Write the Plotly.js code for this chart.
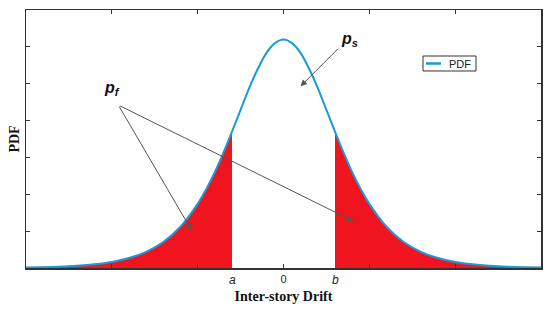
<!DOCTYPE html>
<html>
<head>
<meta charset="utf-8">
<script src="https://cdn.plot.ly/plotly-3.0.1.min.js"></script>
<style>html,body{margin:0;padding:0;background:#fff;}#chart{width:550px;height:311px;}</style>
</head>
<body>
<div id="chart"></div>
<script>
// Inter-story drift (x) and PDF values
const drift = [-3,-2.8,-2.6,-2.4,-2.2,-2,-1.8,-1.6,-1.4,-1.2,-1,-0.9,-0.8,-0.7,-0.6,-0.5,-0.4,-0.3,-0.2,-0.1,0,0.1,0.2,0.3,0.4,0.5,0.6,0.7,0.8,0.9,1,1.2,1.4,1.6,1.8,2,2.2,2.4,2.6,2.8,3];
const pdf = [0.0014,0.0023,0.0037,0.0061,0.0101,0.0165,0.027,0.0438,0.0706,0.112,0.174,0.214,0.26,0.313,0.37,0.429,0.488,0.54,0.583,0.61,0.62,0.61,0.583,0.54,0.488,0.429,0.37,0.313,0.26,0.214,0.174,0.112,0.0706,0.0438,0.027,0.0165,0.0101,0.0061,0.0037,0.0023,0.0014];
const limitA = -0.6;   // "a"
const limitB = 0.6;    // "b"
const xTicks = [-2,-1,0,1,2];
const xTickText = ['','','0','',''];
const yTicks = [0.1,0.2,0.3,0.4,0.5,0.6];
const legendLabel = 'PDF';

const leftX = [], leftY = [], rightX = [], rightY = [];
drift.forEach((x,i)=>{
  if (x <= limitA) { leftX.push(x); leftY.push(pdf[i]); }
  if (x >= limitB) { rightX.push(x); rightY.push(pdf[i]); }
});

const red = '#f0141e';
const blue = '#1b9ad8';
const traces = [
  {x:leftX, y:leftY, type:'scatter', mode:'lines', fill:'tozeroy', fillcolor:red,
   line:{color:red, width:0.5, shape:'spline'}, showlegend:false, hoverinfo:'skip'},
  {x:rightX, y:rightY, type:'scatter', mode:'lines', fill:'tozeroy', fillcolor:red,
   line:{color:red, width:0.5, shape:'spline'}, showlegend:false, hoverinfo:'skip'},
  {x:drift, y:pdf, type:'scatter', mode:'lines', name:legendLabel, showlegend:false,
   line:{color:blue, width:2, shape:'spline'}}
];

const arrowColor = '#555';
const layout = {
  width:550, height:311,
  margin:{l:26, r:9, t:10, b:43},
  paper_bgcolor:'#fff', plot_bgcolor:'#fff',
  showlegend:false,
  xaxis:{range:[-3,3], tickvals:xTicks, ticktext:xTickText, ticks:'inside', ticklen:4,
         tickcolor:'#333', showline:true, linecolor:'#333', linewidth:1.5, mirror:'ticks',
         showgrid:false, zeroline:false,
         tickfont:{family:'Liberation Sans, Arial', size:11, color:'#222'},
         title:{text:'<b>Inter-story Drift</b>', standoff:7,
                font:{family:'Liberation Serif, Times New Roman', size:14, color:'#111'}}},
  yaxis:{range:[0,0.7], tickvals:yTicks, showticklabels:false, ticks:'inside', ticklen:4,
         tickcolor:'#333', showline:true, linecolor:'#333', linewidth:1.5, mirror:'ticks',
         showgrid:false, zeroline:false,
         title:{text:'<b>PDF</b>', standoff:1,
                font:{family:'Liberation Serif, Times New Roman', size:14, color:'#111'}}},
  shapes:[
    {type:'rect', xref:'paper', yref:'paper', x0:0.7709, x1:0.8738, y0:0.7636, y1:0.8217,
     line:{color:'#333', width:1}, fillcolor:'#fff'},
    {type:'line', xref:'paper', yref:'paper', x0:0.7767, x1:0.8058, y0:0.7926, y1:0.7926,
     line:{color:blue, width:2.5}}
  ],
  annotations:[
    {x:0.8175, y:0.7926, xref:'paper', yref:'paper', text:legendLabel, showarrow:false,
     xanchor:'left', yanchor:'middle',
     font:{family:'Liberation Sans, Arial', size:11, color:'#222'}},
    {x:limitA, y:0, xref:'x', yref:'y', text:'<i>a</i>', showarrow:false, yanchor:'top', yshift:-3,
     font:{family:'Liberation Sans, Arial', size:12, color:'#222'}},
    {x:limitB, y:0, xref:'x', yref:'y', text:'<i>b</i>', showarrow:false, yanchor:'top', yshift:-3,
     font:{family:'Liberation Sans, Arial', size:12, color:'#222'}},
    {x:-2.0, y:0.488, xref:'x', yref:'y', text:'<b><i>p<sub>f</sub></i></b>', showarrow:false,
     font:{family:'Liberation Sans, Arial', size:16, color:'#111'}},
    {x:0.77, y:0.62, xref:'x', yref:'y', text:'<b><i>p<sub>s</sub></i></b>', showarrow:false,
     font:{family:'Liberation Sans, Arial', size:16, color:'#111'}},
    {x:-1.073, y:0.103, ax:-1.924, ay:0.442, xref:'x', yref:'y', axref:'x', ayref:'y', text:'',
     showarrow:true, arrowhead:2, arrowsize:1.3, arrowwidth:1, arrowcolor:arrowColor},
    {x:0.816, y:0.127, ax:-1.924, ay:0.442, xref:'x', yref:'y', axref:'x', ayref:'y', text:'',
     showarrow:true, arrowhead:2, arrowsize:1.3, arrowwidth:1, arrowcolor:arrowColor},
    {x:0.198, y:0.493, ax:0.653, ay:0.599, xref:'x', yref:'y', axref:'x', ayref:'y', text:'',
     showarrow:true, arrowhead:2, arrowsize:1.3, arrowwidth:1, arrowcolor:arrowColor}
  ]
};

Plotly.newPlot('chart', traces, layout, {staticPlot:true, displayModeBar:false});
</script>
</body>
</html>
